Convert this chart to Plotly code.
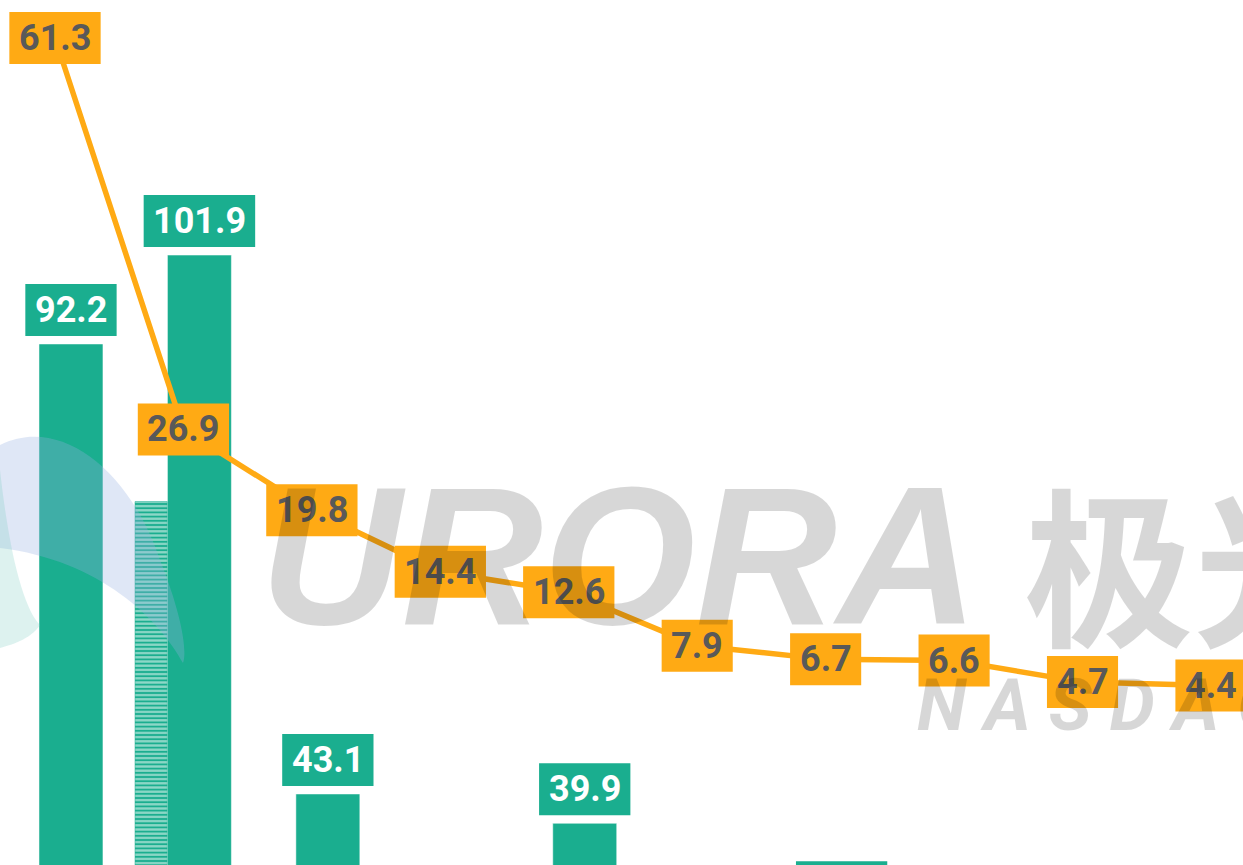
import plotly.graph_objects as go

# ---------------- data ----------------
categories = list(range(10))
bar_values = [92.2, 101.9, 43.1, None, 39.9, None, 29.2, None, None, None]
hatched_values = [None, 75.0, None, None, None, None, None, None, None, None]
line_values = [61.3, 26.9, 19.8, 14.4, 12.6, 7.9, 6.7, 6.6, 4.7, 4.4]

# ---------------- styles ----------------
W, H = 1243, 865
TEAL = "#1aae8f"
ORANGE = "#ffaa14"
LABEL_DARK = "#595959"
BAR_OFFSET, BAR_WIDTH = -0.1246, 0.498
HATCH_OFFSET, HATCH_WIDTH = -0.377, 0.2515
FONT = "Roboto"
FS = 36


def box_width(txt):
    nd = sum(c.isdigit() for c in txt)
    return nd * 20.2 + 9.7 + 21


fig = go.Figure()

fig.add_trace(go.Bar(
    x=categories, y=bar_values, offset=BAR_OFFSET, width=BAR_WIDTH,
    marker=dict(color=TEAL, line=dict(color="rgba(255,255,255,0.5)", width=1)),
    hoverinfo="skip"))

fig.add_trace(go.Bar(
    x=categories, y=hatched_values, offset=HATCH_OFFSET, width=HATCH_WIDTH,
    marker=dict(color=TEAL, line=dict(color="rgba(26,174,143,0.5)", width=1),
                pattern=dict(shape="-", fgcolor="white", bgcolor=TEAL, size=4.2, solidity=0.55)),
    hoverinfo="skip"))

fig.add_trace(go.Scatter(
    x=categories, y=line_values, yaxis="y2", mode="lines",
    line=dict(color=ORANGE, width=5.5), hoverinfo="skip"))

shapes = []
annotations = []

# bar labels
for i, v in zip(categories, bar_values):
    if v is None:
        continue
    t = f"{v:.1f}"
    w = box_width(t)
    xc = i + BAR_OFFSET + BAR_WIDTH / 2
    shapes.append(dict(type="rect", xref="x", yref="y", xsizemode="pixel", ysizemode="pixel",
                       xanchor=xc, yanchor=v, x0=-w / 2, x1=w / 2, y0=8, y1=60,
                       fillcolor=TEAL, line=dict(width=0), layer="above"))
    annotations.append(dict(x=xc, y=v, xref="x", yref="y", text=f"<b>{t}</b>", showarrow=False,
                            yshift=34, font=dict(family=FONT, size=FS, color="white")))

# line labels
for i, v in zip(categories, line_values):
    t = f"{v:.1f}"
    w = box_width(t)
    shapes.append(dict(type="rect", xref="x", yref="y2", xsizemode="pixel", ysizemode="pixel",
                       xanchor=i, yanchor=v, x0=-w / 2, x1=w / 2, y0=-26, y1=26,
                       fillcolor=ORANGE, line=dict(width=0), layer="above"))
    annotations.append(dict(x=i, y=v, xref="x", yref="y2", text=f"<b>{t}</b>", showarrow=False,
                            font=dict(family=FONT, size=FS, color=LABEL_DARK)))


# watermark (logo swirl + text), in pixel -> paper coords
def P(px, py):
    return f"{px / W:.4f},{1 - py / H:.4f}"


swirl1 = ("M " + P(0, 445) + " C " + P(60, 415) + " " + P(130, 470) + " " + P(160, 560)
          + " C " + P(180, 610) + " " + P(188, 650) + " " + P(183, 663)
          + " C " + P(160, 620) + " " + P(100, 560) + " " + P(0, 548) + " Z")
swirl2 = ("M " + P(0, 470) + " C " + P(10, 560) + " " + P(25, 610) + " " + P(40, 625)
          + " C " + P(30, 640) + " " + P(10, 645) + " " + P(0, 648) + " Z")
shapes.append(dict(type="path", xref="paper", yref="paper", path=swirl1,
                   fillcolor="rgba(150,175,225,0.3)", line=dict(width=0), layer="above"))
shapes.append(dict(type="path", xref="paper", yref="paper", path=swirl2,
                   fillcolor="rgba(120,205,190,0.25)", line=dict(width=0), layer="above"))

WM = "rgba(0,0,0,0.155)"
annotations.append(dict(x=258 / W, y=1 - 556 / H, xref="paper", yref="paper", xanchor="left",
                        yanchor="middle", text="URORA", showarrow=False,
                        font=dict(family="Liberation Sans", size=196, color=WM, style="italic",
                                  weight="bold")))
annotations.append(dict(x=1022 / W, y=1 - 560 / H, xref="paper", yref="paper", xanchor="left",
                        yanchor="middle", text="极光", showarrow=False,
                        font=dict(family="Noto Sans CJK SC", size=170, color=WM, weight=700)))
annotations.append(dict(x=915 / W, y=1 - 705 / H, xref="paper", yref="paper", xanchor="left",
                        yanchor="middle", text="N A S D A Q : J G", showarrow=False,
                        font=dict(family=FONT, size=72, color=WM, style="italic", weight=700)))

fig.update_layout(
    width=W, height=H, margin=dict(l=0, r=0, t=0, b=0),
    paper_bgcolor="white", plot_bgcolor="white", showlegend=False, barmode="overlay",
    xaxis=dict(visible=False, range=[-0.4282, 9.2495], type="linear"),
    yaxis=dict(visible=False, range=[35.35, 129.73]),
    yaxis2=dict(visible=False, range=[-11.37, 64.64], overlaying="y", side="right"),
    shapes=shapes, annotations=annotations,
)

fig.write_html("out.html", config={"displayModeBar": False},
               post_script="document.body.style.margin='0';document.body.style.overflow='hidden';")
